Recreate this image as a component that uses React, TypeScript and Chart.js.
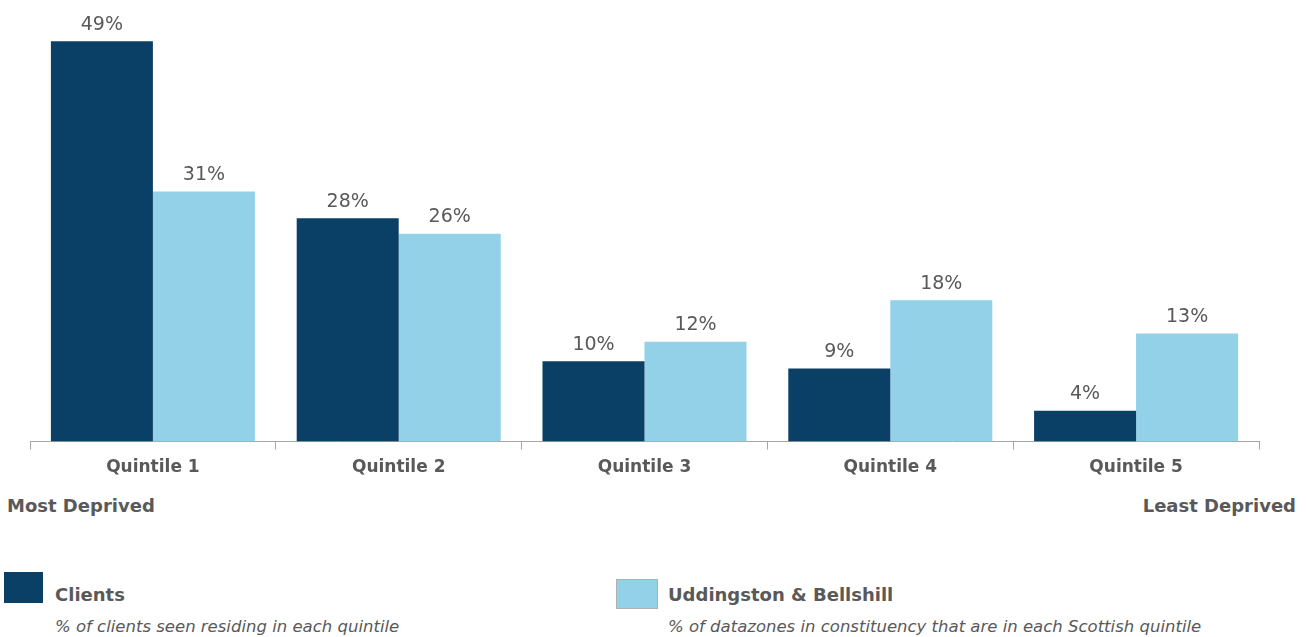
import React, { useEffect, useRef } from "react";
import { Chart, registerables } from "chart.js";

Chart.register(...registerables);

const categories = ["Quintile 1", "Quintile 2", "Quintile 3", "Quintile 4", "Quintile 5"];
const clientsValues = [49.3, 27.5, 9.9, 9.0, 3.8];
const areaValues = [30.8, 25.6, 12.3, 17.4, 13.3];
const clientsLabels = ["49%", "28%", "10%", "9%", "4%"];
const areaLabels = ["31%", "26%", "12%", "18%", "13%"];

const DARK = "#0a3f66";
const LIGHT = "#92d1e8";
const TEXT = "#595959";
const FONT = "'DejaVu Sans', Verdana, sans-serif";

const labelPlugin = {
  id: "barLabels",
  afterDatasetsDraw(chart: any) {
    const ctx = chart.ctx;
    ctx.save();
    ctx.font = `19px ${FONT}`;
    ctx.fillStyle = TEXT;
    ctx.textAlign = "center";
    ctx.textBaseline = "bottom";
    chart.data.datasets.forEach((ds: any, di: number) => {
      const meta = chart.getDatasetMeta(di);
      const labels = di === 0 ? clientsLabels : areaLabels;
      meta.data.forEach((bar: any, i: number) => {
        ctx.fillText(labels[i], bar.x, bar.y - 7);
      });
    });
    ctx.restore();
  },
};

export default function App() {
  const ref = useRef<HTMLCanvasElement>(null);
  useEffect(() => {
    const chart = new Chart(ref.current!, {
      type: "bar",
      data: {
        labels: categories,
        datasets: [
          { label: "Clients", data: clientsValues, backgroundColor: DARK, borderWidth: 0 },
          { label: "Uddingston & Bellshill", data: areaValues, backgroundColor: LIGHT, borderWidth: 0 },
        ],
      },
      options: {
        animation: false,
        responsive: false,
        events: [],
        layout: { padding: { left: 30, right: 48, top: 35.5, bottom: 2 } },
        plugins: { legend: { display: false }, tooltip: { enabled: false } },
        datasets: { bar: { categoryPercentage: 0.83, barPercentage: 1 } },
        scales: {
          x: {
            grid: {
              offset: true,
              drawOnChartArea: false,
              drawTicks: true,
              tickLength: 8,
              color: "#a6a6a6",
            },
            border: { color: "#a6a6a6", width: 1 },
            ticks: {
              color: TEXT,
              padding: 8,
              font: { family: FONT, size: 17, weight: "bold" },
            },
          },
          y: { display: false, min: 0, max: 50 },
        },
      },
      plugins: [labelPlugin],
    });
    return () => chart.destroy();
  }, []);

  const bold = { fontFamily: FONT, fontWeight: "bold", color: TEXT, position: "absolute" as const, whiteSpace: "nowrap" as const };
  const ital = { fontFamily: FONT, fontStyle: "italic", color: TEXT, position: "absolute" as const, whiteSpace: "nowrap" as const, fontSize: 16.5 };

  return (
    <div style={{ position: "fixed", left: 0, top: 0, width: 1307, height: 637, background: "#fff" }}>
      <canvas ref={ref} width={1307} height={488} style={{ position: "absolute", left: 0, top: 0 }} />
      <div style={{ ...bold, fontSize: 18, left: 7, top: 495 }}>Most Deprived</div>
      <div style={{ ...bold, fontSize: 18, right: 11, top: 495 }}>Least Deprived</div>
      <div style={{ position: "absolute", left: 4, top: 572, width: 39, height: 31, background: DARK }} />
      <div style={{ ...bold, fontSize: 18, left: 55, top: 584 }}>Clients</div>
      <div style={{ ...ital, left: 55, top: 617 }}>% of clients seen residing in each quintile</div>
      <div style={{ position: "absolute", left: 616, top: 579, width: 40, height: 28, background: LIGHT, border: "1px solid #b0b0b0" }} />
      <div style={{ ...bold, fontSize: 18, left: 668, top: 584 }}>Uddingston &amp; Bellshill</div>
      <div style={{ ...ital, left: 668, top: 617 }}>% of datazones in constituency that are in each Scottish quintile</div>
    </div>
  );
}
